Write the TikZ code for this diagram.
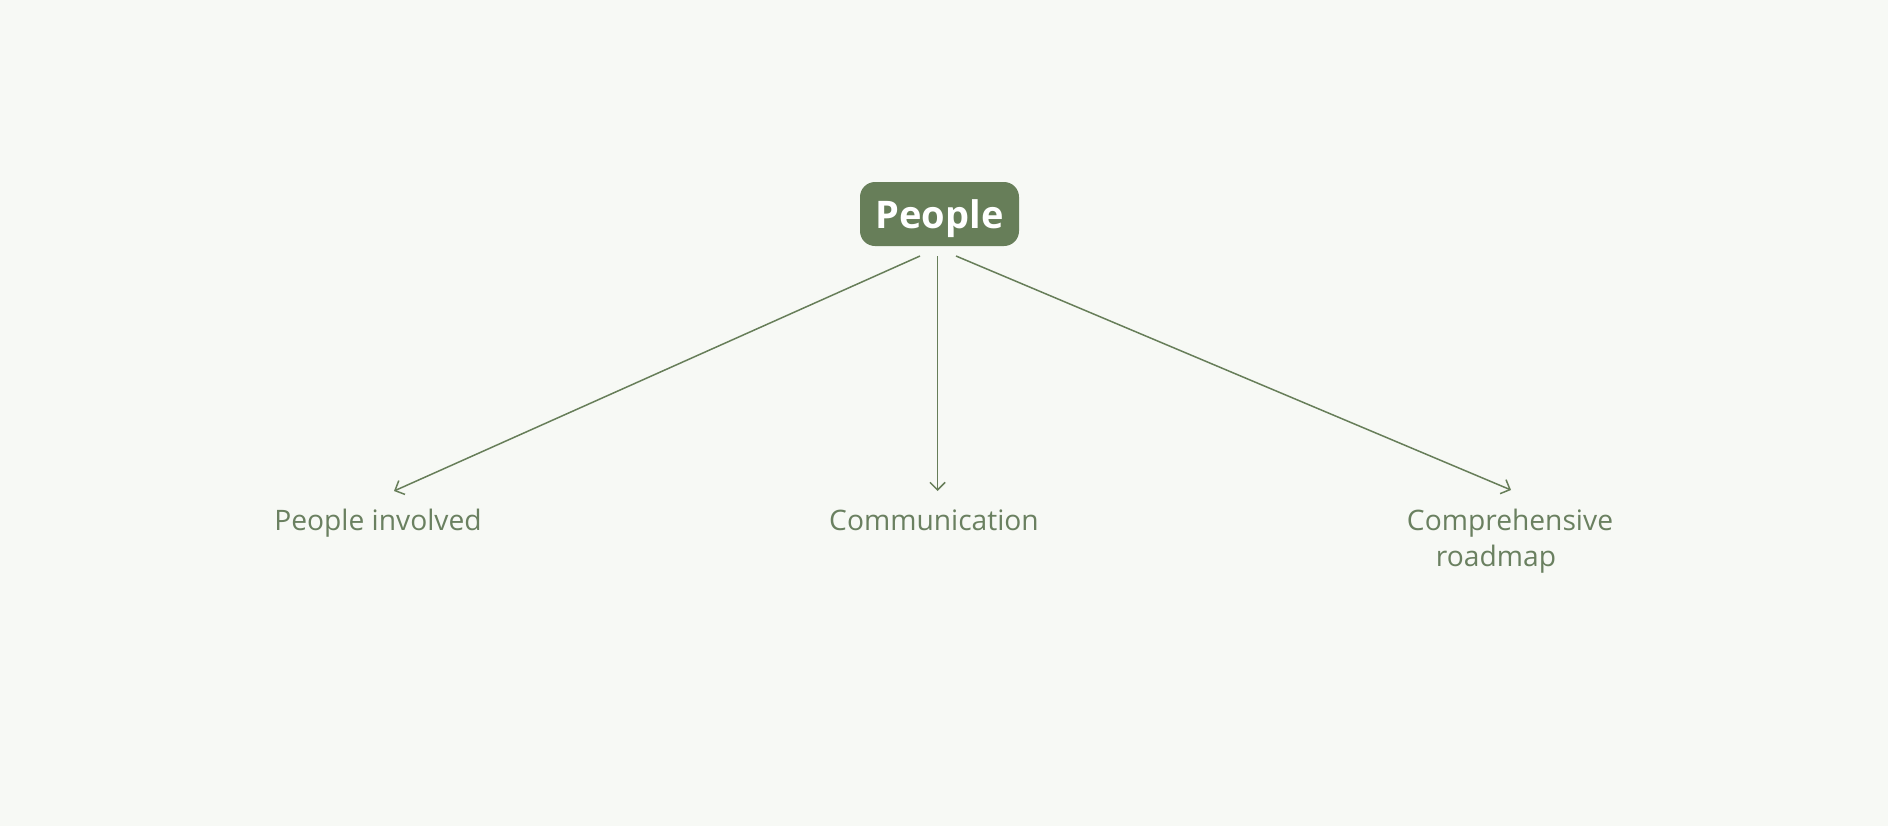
\documentclass[tikz,border=0pt]{standalone}
\usepackage{fontspec}
\setmainfont{Open Sans}
\usetikzlibrary{arrows.meta}
\definecolor{bg}{HTML}{F7F9F5}
\definecolor{leaf}{HTML}{677E59}
\definecolor{txt}{HTML}{6A8060}
\tikzset{
  rootbox/.style={fill=leaf, rounded corners=7.5pt, minimum width=79.5pt, minimum height=32pt, inner sep=0pt, text=white, text depth=0pt, font=\fontsize{19}{22}\selectfont\bfseries},
  leaflabel/.style={text=txt, font=\fontsize{14.1}{18}\selectfont, align=center, inner sep=0pt},
  arr/.style={draw=leaf, line width=0.75pt, -{Straight Barb[length=3.8pt,width=7.6pt]}}
}
\begin{document}
\begin{tikzpicture}[x=0.5pt,y=-0.5pt]
\fill[bg] (0,0) rectangle (1888,826);
\useasboundingbox (0,0) rectangle (1888,826);
\node[rootbox] (root) at (939.5,214) {People};
\node[leaflabel, anchor=base] (l1) at (378,530) {People involved};
\node[leaflabel, anchor=base] (l2) at (934,530) {Communication};
\node[leaflabel, anchor=base] (l3) at (1510,566) {Comprehensive\\roadmap\hspace*{14pt}};
\coordinate (s1) at (920,256);
\coordinate (s2) at (937.5,256);
\coordinate (s3) at (956,256);
\coordinate (e1) at (394,491);
\coordinate (e2) at (937.5,491);
\coordinate (e3) at (1511,490);
\draw[arr] (s1) -- (e1);
\draw[arr] (s2) -- (e2);
\draw[arr] (s3) -- (e3);
\end{tikzpicture}
\end{document}
